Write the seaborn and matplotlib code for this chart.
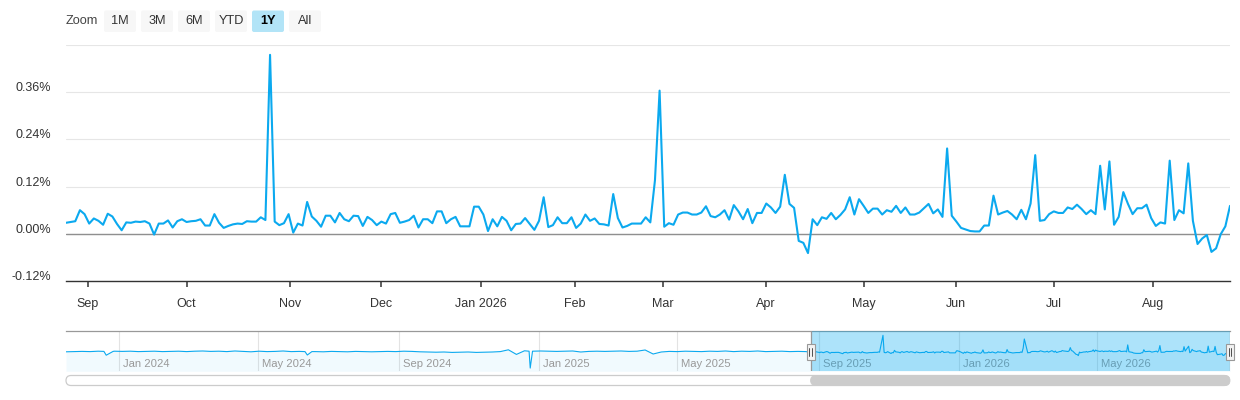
import numpy as np
import pandas as pd
import matplotlib
matplotlib.use("Agg")
import matplotlib.pyplot as plt
import matplotlib.dates as mdates
import matplotlib.transforms as mtransforms
from matplotlib.patches import FancyBboxPatch, Rectangle
import seaborn as sns

# ---------------- data (daily values in %, 1Y window, NYSE trading days) ----------------
holidays = ["2025-09-01", "2025-11-27", "2025-12-25", "2026-01-01", "2026-01-19",
            "2026-02-16", "2026-04-03", "2026-05-25", "2026-06-19", "2026-07-03"]
start_date = "2025-08-25"
end_date = "2026-08-25"

seg_aug_oct = [0.028, 0.030, 0.032, 0.060, 0.050, 0.026, 0.039, 0.033, 0.023, 0.051, 0.044,
               0.025, 0.009, 0.029, 0.028, 0.031, 0.030, 0.032, 0.026, -0.002, 0.026, 0.026,
               0.034, 0.016, 0.032, 0.037, 0.030, 0.032, 0.033, 0.037, 0.021, 0.021, 0.050,
               0.028, 0.015, 0.020, 0.024, 0.026, 0.025, 0.032, 0.031, 0.031, 0.042]
seg_oct_dec = [0.035, 0.455, 0.031, 0.022, 0.027, 0.050, 0.003, 0.026, 0.021, 0.081, 0.044,
               0.033, 0.018, 0.046, 0.046, 0.029, 0.053, 0.037, 0.032, 0.046, 0.045, 0.020,
               0.043, 0.035, 0.022, 0.031, 0.026, 0.050, 0.053, 0.028, 0.031, 0.035, 0.046,
               0.016, 0.037, 0.037, 0.027, 0.057, 0.057, 0.027, 0.037]
seg_dec_feb = [0.043, 0.019, 0.019, 0.019, 0.069, 0.069, 0.049, 0.007, 0.037, 0.019, 0.043,
               0.033, 0.009, 0.025, 0.026, 0.040, 0.025, 0.010, 0.033, 0.093, 0.017, 0.022,
               0.042, 0.027, 0.027, 0.042, 0.015, 0.026, 0.049, 0.033, 0.039, 0.025, 0.024,
               0.021, 0.101, 0.040, 0.016, 0.020, 0.026, 0.026, 0.026, 0.042, 0.029]
seg_feb_apr = [0.136, 0.364, 0.018, 0.027, 0.023, 0.049, 0.054, 0.054, 0.049, 0.049, 0.054,
               0.070, 0.045, 0.042, 0.049, 0.060, 0.036, 0.073, 0.057, 0.037, 0.063, 0.027,
               0.053, 0.053, 0.077, 0.067, 0.053, 0.069, 0.150, 0.076, 0.066, -0.018, -0.023,
               -0.049, 0.037, 0.022, 0.042, 0.038, 0.053, 0.037, 0.048, 0.062]
seg_apr_jun = [0.093, 0.049, 0.088, 0.071, 0.053, 0.064, 0.064, 0.049, 0.060, 0.056, 0.071,
               0.053, 0.067, 0.049, 0.049, 0.054, 0.065, 0.076, 0.052, 0.062, 0.043, 0.217,
               0.046, 0.031, 0.015, 0.011, 0.007, 0.006, 0.006, 0.021, 0.021, 0.097, 0.049,
               0.054, 0.058, 0.049, 0.037, 0.061, 0.037, 0.077, 0.200, 0.033]
seg_jun_aug = [0.035, 0.050, 0.057, 0.053, 0.053, 0.067, 0.063, 0.074, 0.063, 0.050, 0.060,
               0.050, 0.173, 0.062, 0.184, 0.023, 0.043, 0.106, 0.076, 0.050, 0.065, 0.065,
               0.074, 0.040, 0.020, 0.029, 0.026, 0.186, 0.035, 0.060, 0.052, 0.179, 0.033,
               -0.026, -0.012, -0.003, -0.046, -0.037, -0.001, 0.019, 0.071]

# older history shown only in the navigator (weekly readings from 2023-11-16)
hist_start = "2023-11-16"
hist_weekly = [0.045, 0.050, 0.055, 0.050, 0.060, -0.040, 0.060, 0.055, 0.060, 0.050,
               0.055, 0.060, 0.050, 0.055, 0.060, 0.050, 0.060, 0.065, 0.055, 0.060,
               0.050, 0.065, 0.055, 0.045, 0.060, 0.050, 0.055, 0.065, 0.050, 0.055,
               -0.035, 0.050, 0.045, 0.055, 0.050, 0.045, 0.055, 0.050, 0.045, 0.050,
               0.055, 0.050, 0.060, 0.055, 0.045, 0.040, 0.035, 0.040, 0.030, 0.035,
               0.040, 0.030, 0.035, 0.040, 0.050, 0.095, -0.020, 0.070, 0.060, 0.065,
               0.060, 0.055, 0.060, 0.065, 0.040, 0.055, 0.060, 0.055, 0.060, 0.065,
               0.055, 0.060, 0.090, -0.010, 0.040, 0.055, 0.050, 0.060, 0.055, 0.050,
               0.060, 0.055, 0.065, 0.050, 0.060, 0.055, 0.065, 0.050, 0.055, 0.060,
               0.050, 0.055, 0.050]
event_dates = ["2023-12-19", "2023-12-27", "2024-06-11", "2024-06-17",
               "2024-12-23", "2024-12-24"]
event_values = [0.055, 0.055, 0.050, 0.050, 0.060, -0.360]

month_ticks = ["2025-09-01", "2025-10-01", "2025-11-01", "2025-12-01", "2026-01-01",
               "2026-02-01", "2026-03-01", "2026-04-01", "2026-05-01", "2026-06-01",
               "2026-07-01", "2026-08-01"]
month_labels = ["Sep", "Oct", "Nov", "Dec", "Jan 2026", "Feb", "Mar", "Apr", "May",
                "Jun", "Jul", "Aug"]
y_ticks = [-0.12, 0.0, 0.12, 0.24, 0.36, 0.48]
y_labels = ["-0.12%", "0.00%", "0.12%", "0.24%", "0.36%", ""]

nav_ticks = ["2024-01-01", "2024-05-01", "2024-09-01", "2025-01-01", "2025-05-01",
             "2025-09-01", "2026-01-01", "2026-05-01"]
nav_labels = ["Jan 2024", "May 2024", "Sep 2024", "Jan 2025", "May 2025",
              "Sep 2025", "Jan 2026", "May 2026"]

zoom_buttons = ["1M", "3M", "6M", "YTD", "1Y", "All"]
selected_button = "1Y"

# ---------------- build frames ----------------
values = seg_aug_oct + seg_oct_dec + seg_dec_feb + seg_feb_apr + seg_apr_jun + seg_jun_aug
dates = pd.bdate_range(start_date, end_date, freq="C", holidays=holidays)
main = pd.DataFrame({"date": dates, "value": values})
main["idx"] = np.arange(len(main))

hist = pd.DataFrame({"date": pd.date_range(hist_start, periods=len(hist_weekly), freq="7D"),
                     "value": hist_weekly})
events = pd.DataFrame({"date": pd.to_datetime(event_dates), "value": event_values})
nav = pd.concat([hist, events, main[["date", "value"]]]).sort_values("date").reset_index(drop=True)

# ---------------- style ----------------
sns.set_style("white")
plt.rcParams["font.family"] = ["Liberation Sans", "DejaVu Sans"]
LINE = "#0ba9ef"
TXT = "#333333"

W, H = 1240, 400
fig = plt.figure(figsize=(W / 100, H / 100), dpi=100)
fig.patch.set_facecolor("white")

def fig_rect(x0, y0, x1, y1):
    return [x0 / W, 1 - y1 / H, (x1 - x0) / W, (y1 - y0) / H]

# ---------------- main chart ----------------
ax = fig.add_axes(fig_rect(66, 45, 1230, 281))
ax.set_facecolor("white")
sns.lineplot(data=main, x="idx", y="value", ax=ax, color=LINE, linewidth=1.5,
             estimator=None, zorder=4)
ax.set_xlim(0, len(main) - 1)
ax.set_ylim(-0.12, 0.48)
ax.set_xlabel("")
ax.set_ylabel("")

ts = mdates.date2num(main["date"])
tick_pos = np.interp(mdates.date2num(pd.to_datetime(month_ticks)), ts, main["idx"])
ax.set_xticks(tick_pos)
ax.set_xticklabels(month_labels)
ax.set_yticks(y_ticks)
ax.set_yticklabels(y_labels)
ax.grid(axis="y", color="#e6e6e6", linewidth=0.8)
ax.grid(axis="x", visible=False)
ax.axhline(0, color="#8f8f8f", linewidth=1.0, zorder=3)
for s in ["top", "right", "left"]:
    ax.spines[s].set_visible(False)
ax.spines["bottom"].set_color("#333333")
ax.spines["bottom"].set_linewidth(1.0)
ax.tick_params(axis="x", bottom=True, direction="out", length=4.5, width=1.1,
               color="#333333", labelsize=9.0, labelcolor=TXT, pad=7.5)
ax.tick_params(axis="y", left=False, length=0, labelsize=9.0, labelcolor=TXT, pad=10.5)
off = mtransforms.ScaledTranslation(0, 0.055, fig.dpi_scale_trans)
for lab in ax.get_yticklabels():
    lab.set_transform(lab.get_transform() + off)

# ---------------- navigator ----------------
nx = fig.add_axes(fig_rect(66, 331.3, 1230, 371.3))
nx.set_facecolor("white")
lo, hi = -0.44, 0.555
nx.fill_between(nav["date"], nav["value"], lo, color=LINE, alpha=0.055, linewidth=0, zorder=1)
sns.lineplot(data=nav, x="date", y="value", ax=nx, color=LINE, linewidth=0.8,
             estimator=None, zorder=3)
nx.set_xlim(nav["date"].min(), nav["date"].max())
nx.set_ylim(lo, hi)
nx.set_xticks([])
nx.set_yticks([])
nx.set_xlabel("")
nx.set_ylabel("")
for s in ["bottom", "right", "left"]:
    nx.spines[s].set_visible(False)
nx.spines["top"].set_color("#999999")
nx.spines["top"].set_linewidth(0.9)
lab_off = mtransforms.ScaledTranslation(0.04, 0, fig.dpi_scale_trans)
blend = mtransforms.blended_transform_factory(nx.transData, nx.transAxes)
for d, l in zip(pd.to_datetime(nav_ticks), nav_labels):
    nx.axvline(d, color="#e3e3e3", linewidth=0.8, zorder=0.5)
    nx.text(d, 0.18, l, transform=blend + lab_off, ha="left", va="center",
            fontsize=8.1, color="#999999", zorder=2)
d0, d1 = main["date"].iloc[0], main["date"].iloc[-1]
nx.axvspan(d0, d1, color="#00a8f0", alpha=0.32, linewidth=0, zorder=5)
nx.axvline(d0, color="#999999", linewidth=0.9, zorder=6)
nx.axvline(d1, color="#999999", linewidth=0.9, zorder=6)

# ---------------- overlay: zoom buttons, handles, scrollbar ----------------
ov = fig.add_axes([0, 0, 1, 1])
ov.set_xlim(0, W)
ov.set_ylim(H, 0)
ov.axis("off")
ov.patch.set_alpha(0)

ov.text(66, 21.5, "Zoom", ha="left", va="center", fontsize=9.2, color="#444444")
bx = [104, 141, 178, 215, 252, 289]
for x0, name in zip(bx, zoom_buttons):
    sel = name == selected_button
    ov.add_patch(FancyBboxPatch((x0, 10.5), 32, 21.5,
                                boxstyle="round,pad=0,rounding_size=2",
                                facecolor="#b2e4f7" if sel else "#f7f7f7",
                                edgecolor="none"))
    ov.text(x0 + 16, 21.5, name, ha="center", va="center", fontsize=9.2,
            color="#000000" if sel else TXT, fontweight="bold" if sel else "normal")

# mask edge pixels from navigator data transform
def nav_px(d):
    disp = nx.transData.transform((mdates.date2num(d), 0))
    return ov.transData.inverted().transform(disp)[0]

px0, px1 = nav_px(d0), nav_px(d1)

# scrollbar
ov.add_patch(FancyBboxPatch((66, 375.5), 1163, 10, boxstyle="round,pad=0,rounding_size=5",
                            facecolor="white", edgecolor="#cccccc", linewidth=0.9))
ov.add_patch(FancyBboxPatch((px0, 375.5), px1 - px0, 10,
                            boxstyle="round,pad=0,rounding_size=5",
                            facecolor="#cccccc", edgecolor="#cccccc", linewidth=0.6))

# navigator handles
for px in (px0, px1):
    ov.add_patch(Rectangle((px - 4, 344), 8, 15.5, facecolor="#f2f2f2",
                           edgecolor="#999999", linewidth=0.8))
    for dx in (-1.3, 1.3):
        ov.plot([px + dx, px + dx], [348, 355.5], color="#333333", linewidth=0.6)

fig.savefig("out.png", dpi=100, facecolor="white")
